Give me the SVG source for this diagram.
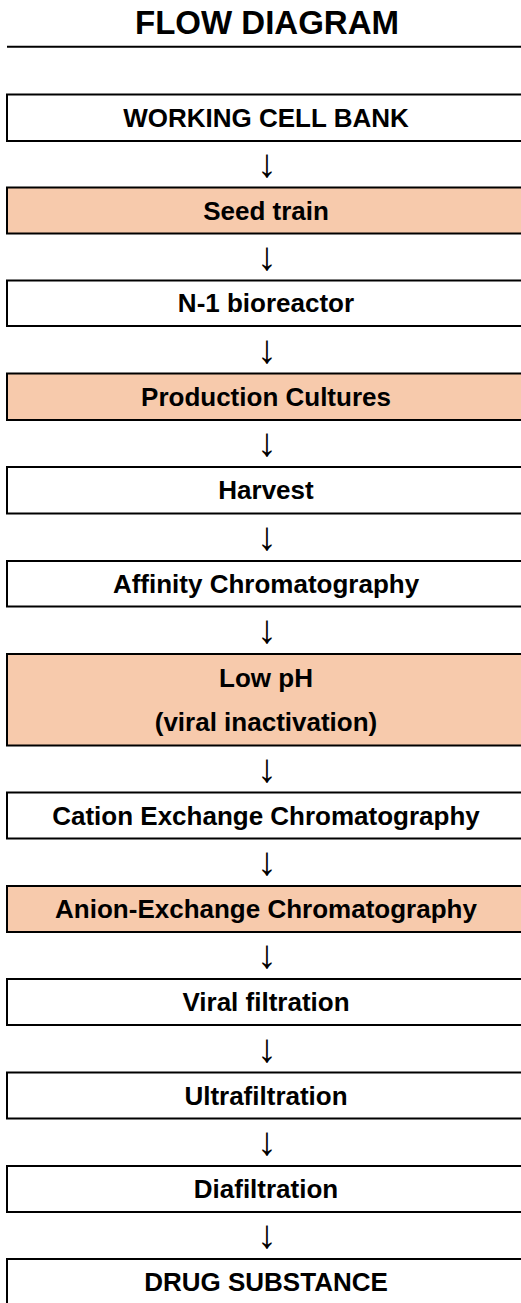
<svg xmlns="http://www.w3.org/2000/svg" width="521" height="1303" viewBox="0 0 521 1303">
  <style>
    .box { stroke: #000; stroke-width: 2; fill: #fff; }
    .hl { fill: #F7CAAC; }
    .lbl { font-family: "Liberation Sans", Arial, sans-serif; font-weight: bold; font-size: 26px; fill: #000; text-anchor: middle; }
    .title { font-family: "Liberation Sans", Arial, sans-serif; font-weight: bold; font-size: 33px; fill: #000; text-anchor: middle; }
    .arr { font-family: "Liberation Sans", Arial, sans-serif; font-size: 40px; fill: #000; text-anchor: middle; }
  </style>
  <rect x="0" y="0" width="521" height="1303" fill="#fff"/>
  <g id="title">
    <text class="title" x="267" y="33.5">FLOW DIAGRAM</text>
    <line x1="7" y1="46.7" x2="530" y2="46.7" stroke="#000" stroke-width="2"/>
  </g>
  <g id="n1"><rect class="box" x="7" y="94.5" width="530" height="46.5"/><text class="lbl" x="266" y="126.7">WORKING CELL BANK</text></g>
  <g id="n2"><rect class="box hl" x="7" y="187.5" width="530" height="46"/><text class="lbl" x="266" y="219.5">Seed train</text></g>
  <g id="n3"><rect class="box" x="7" y="280.5" width="530" height="45.5"/><text class="lbl" x="266" y="312.2">N-1 bioreactor</text></g>
  <g id="n4"><rect class="box hl" x="7" y="373.5" width="530" height="46.5"/><text class="lbl" x="266" y="405.7">Production Cultures</text></g>
  <g id="n5"><rect class="box" x="7" y="467" width="530" height="46.5"/><text class="lbl" x="266" y="499.2">Harvest</text></g>
  <g id="n6"><rect class="box" x="7" y="561" width="530" height="45.5"/><text class="lbl" x="266" y="592.7">Affinity Chromatography</text></g>
  <g id="n7"><rect class="box hl" x="7" y="654" width="530" height="91.5"/><text class="lbl" x="266" y="686.5">Low pH</text><text class="lbl" x="266" y="730.5">(viral inactivation)</text></g>
  <g id="n8"><rect class="box" x="7" y="792.5" width="530" height="46"/><text class="lbl" x="266" y="824.5">Cation Exchange Chromatography</text></g>
  <g id="n9"><rect class="box hl" x="7" y="886" width="530" height="46"/><text class="lbl" x="266" y="918">Anion-Exchange Chromatography</text></g>
  <g id="n10"><rect class="box" x="7" y="979" width="530" height="46"/><text class="lbl" x="266" y="1011">Viral filtration</text></g>
  <g id="n11"><rect class="box" x="7" y="1072.5" width="530" height="46"/><text class="lbl" x="266" y="1104.5">Ultrafiltration</text></g>
  <g id="n12"><rect class="box" x="7" y="1166" width="530" height="46"/><text class="lbl" x="266" y="1198">Diafiltration</text></g>
  <g id="n13"><rect class="box" x="7" y="1259" width="530" height="48"/><text class="lbl" x="266" y="1291">DRUG SUBSTANCE</text></g>
  <g id="connectors">
    <text class="arr" x="267" y="177">↓</text>
    <text class="arr" x="267" y="269.5">↓</text>
    <text class="arr" x="267" y="362.5">↓</text>
    <text class="arr" x="267" y="456">↓</text>
    <text class="arr" x="267" y="550">↓</text>
    <text class="arr" x="267" y="643">↓</text>
    <text class="arr" x="267" y="781.5">↓</text>
    <text class="arr" x="267" y="875">↓</text>
    <text class="arr" x="267" y="968">↓</text>
    <text class="arr" x="267" y="1061.5">↓</text>
    <text class="arr" x="267" y="1155">↓</text>
    <text class="arr" x="267" y="1248">↓</text>
  </g>
</svg>
